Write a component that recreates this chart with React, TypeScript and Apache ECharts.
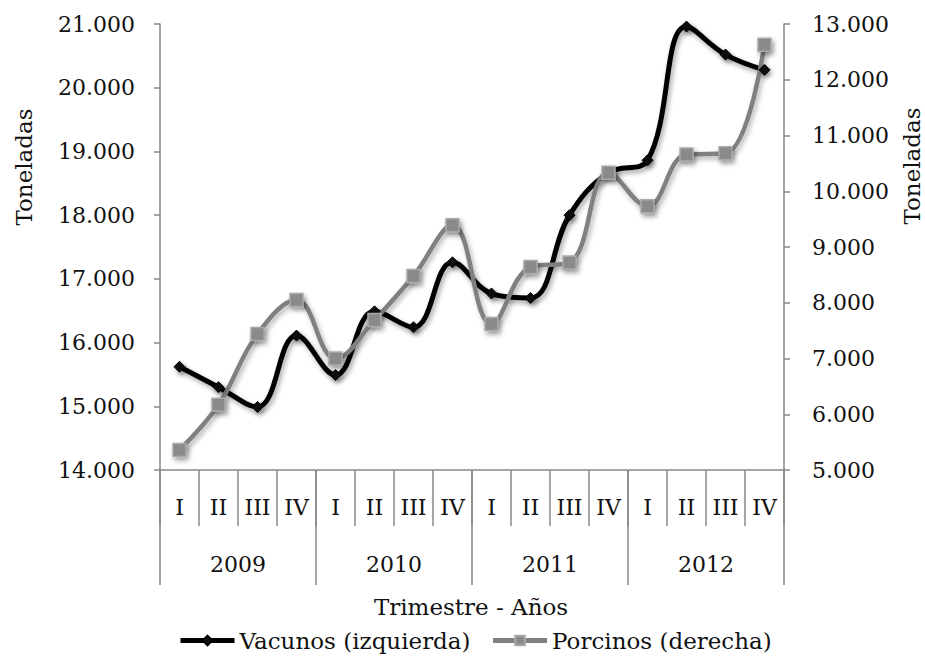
import React, { useEffect, useRef } from "react";
import * as echarts from "echarts";

const quarters = ["I", "II", "III", "IV", "I", "II", "III", "IV", "I", "II", "III", "IV", "I", "II", "III", "IV"];
const years = ["2009", "2010", "2011", "2012"];
const vacunos = [15620, 15300, 14990, 16110, 15490, 16490, 16240, 17260, 16770, 16700, 18000, 18670, 18860, 20960, 20520, 20280];
const porcinos = [5360, 6170, 7440, 8050, 7000, 7690, 8480, 9390, 7620, 8640, 8720, 10330, 9730, 10660, 10680, 12630];

const FONT = "DejaVu Serif";
const AXIS_COLOR = "#898989";

const fmt = (v: number) => String(v).replace(/\B(?=(\d{3})+(?!\d))/g, ".");

export default function App() {
  const ref = useRef<HTMLDivElement>(null);
  useEffect(() => {
    if (!ref.current) return;
    const chart = echarts.init(ref.current, undefined, { renderer: "svg" });
    const labelStyle = { color: "#111", fontFamily: FONT, fontSize: 22 };
    const textStyle = (text: string) => ({
      text,
      fontFamily: FONT,
      fontSize: 23,
      fill: "#111",
      align: "center",
      verticalAlign: "middle",
    });
    chart.setOption({
      animation: false,
      backgroundColor: "#fff",
      grid: { left: 160, right: 141, top: 24, bottom: 186, containLabel: false },
      xAxis: [
        {
          type: "category",
          data: quarters,
          position: "bottom",
          boundaryGap: true,
          axisLine: { show: true, lineStyle: { color: AXIS_COLOR, width: 1.5 } },
          axisTick: { show: true, interval: 0, length: 56, lineStyle: { color: AXIS_COLOR, width: 1.5 } },
          axisLabel: { ...labelStyle, interval: 0, margin: 26 },
          splitLine: { show: false },
        },
        {
          type: "category",
          data: years,
          position: "bottom",
          boundaryGap: true,
          axisLine: { show: false },
          axisTick: { show: true, interval: 0, length: 115, lineStyle: { color: AXIS_COLOR, width: 1.5 } },
          axisLabel: { ...labelStyle, interval: 0, margin: 83 },
          splitLine: { show: false },
        },
      ],
      yAxis: [
        {
          type: "value",
          position: "left",
          min: 14000,
          max: 21000,
          interval: 1000,
          axisLine: { show: true, lineStyle: { color: AXIS_COLOR, width: 1.5 } },
          axisTick: { show: true, length: 6, lineStyle: { color: AXIS_COLOR, width: 1.5 } },
          axisLabel: { ...labelStyle, margin: 25, formatter: fmt },
          splitLine: { show: false },
        },
        {
          type: "value",
          position: "right",
          min: 5000,
          max: 13000,
          interval: 1000,
          axisLine: { show: true, lineStyle: { color: AXIS_COLOR, width: 1.5 } },
          axisTick: { show: true, length: 6, lineStyle: { color: AXIS_COLOR, width: 1.5 } },
          axisLabel: { ...labelStyle, margin: 28, formatter: fmt },
          splitLine: { show: false },
        },
      ],
      legend: {
        left: 178,
        top: 629,
        padding: 0,
        itemWidth: 54,
        itemHeight: 12,
        itemGap: 20,
        textStyle: { color: "#111", fontFamily: FONT, fontSize: 23 },
        data: [
          { name: "Vacunos (izquierda)", lineStyle: { width: 5 } },
          { name: "Porcinos (derecha)", lineStyle: { width: 5 } },
        ],
      },
      graphic: [
        { type: "text", x: 24, y: 167, rotation: Math.PI / 2, style: textStyle("Toneladas") },
        { type: "text", x: 912, y: 166, rotation: Math.PI / 2, style: textStyle("Toneladas") },
        { type: "text", x: 471, y: 607, style: textStyle("Trimestre - Años") },
      ],
      series: [
        {
          name: "Vacunos (izquierda)",
          type: "line",
          xAxisIndex: 0,
          yAxisIndex: 0,
          data: vacunos,
          smooth: 0.4,
          symbol: "diamond",
          symbolSize: 11,
          lineStyle: { color: "#000", width: 5, shadowColor: "rgba(0,0,0,0.35)", shadowBlur: 5, shadowOffsetX: 2, shadowOffsetY: 3 },
          itemStyle: { color: "#111", borderColor: "#000", borderWidth: 1, shadowColor: "rgba(0,0,0,0.4)", shadowBlur: 5, shadowOffsetX: 2, shadowOffsetY: 3 },
        },
        {
          name: "Porcinos (derecha)",
          type: "line",
          xAxisIndex: 0,
          yAxisIndex: 1,
          data: porcinos,
          smooth: 0.4,
          symbol: "rect",
          symbolSize: 13,
          lineStyle: { color: "#808080", width: 4.5, shadowColor: "rgba(0,0,0,0.3)", shadowBlur: 5, shadowOffsetX: 2, shadowOffsetY: 3 },
          itemStyle: { color: "#8a8a8a", borderColor: "#a9a9a9", borderWidth: 1.5, shadowColor: "rgba(0,0,0,0.4)", shadowBlur: 5, shadowOffsetX: 2, shadowOffsetY: 3 },
        },
      ],
    });
    return () => chart.dispose();
  }, []);
  return <div ref={ref} style={{ position: "absolute", left: 0, top: 0, width: 925, height: 656, overflow: "hidden" }} />;
}
